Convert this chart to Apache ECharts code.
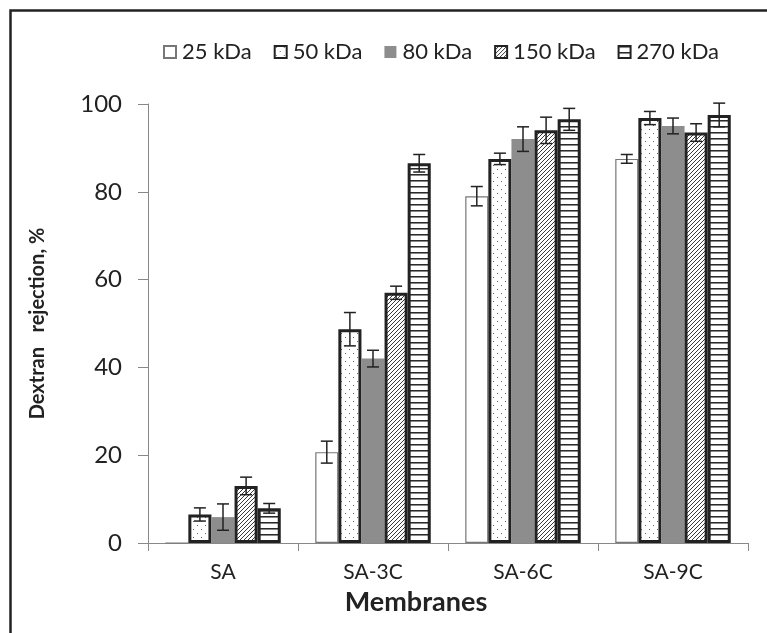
<!DOCTYPE html>
<html>
<head>
<meta charset="utf-8">
<script src="https://cdn.jsdelivr.net/npm/echarts@6/dist/echarts.min.js"></script>
<style>
  html, body { margin: 0; padding: 0; background: #fff; }
  #chart { width: 767px; height: 633px; }
</style>
</head>
<body>
<div id="chart"></div>
<script>
// data
const categories = ["SA", "SA-3C", "SA-6C", "SA-9C"];
const seriesNames = ["25 kDa", "50 kDa", "80 kDa", "150 kDa", "270 kDa"];
const yTicks = [0, 20, 40, 60, 80, 100];

const rej25 = [0, 20.7, 79, 87.5];
const rej50 = [6.5, 48.7, 87.5, 96.8];
const rej80 = [5.9, 42, 92, 95];
const rej150 = [13, 57, 94, 93.5];
const rej270 = [7.9, 86.5, 96.5, 97.5];

const err25 = [0, 2.5, 2.2, 1];
const err50 = [1.5, 3.8, 1.3, 1.5];
const err80 = [3, 1.9, 2.8, 1.8];
const err150 = [2, 1.5, 3, 2];
const err270 = [1.1, 2, 2.5, 2.7];

const values = [rej25, rej50, rej80, rej150, rej270];
const errors = [err25, err50, err80, err150, err270];

const FONT = "Lato";
const GAP = 0.23; // barCategoryGap

// little canvases used as fill patterns
function makePattern(w, h, draw) {
  const c = document.createElement("canvas");
  c.width = w;
  c.height = h;
  const ctx = c.getContext("2d");
  ctx.fillStyle = "#fff";
  ctx.fillRect(0, 0, w, h);
  draw(ctx);
  return { image: c, repeat: "repeat" };
}

const dots = makePattern(8, 8, (ctx) => {
  ctx.fillStyle = "#666";
  ctx.fillRect(1, 1, 1, 1);
  ctx.fillRect(5, 5, 1, 1);
});
const hatch = makePattern(4, 4, (ctx) => {
  ctx.fillStyle = "#3a3a3a";
  for (let i = 0; i < 4; i++) ctx.fillRect(i, 3 - i, 1, 1);
});
const hlines = makePattern(4, 6, (ctx) => {
  ctx.fillStyle = "#2a2a2a";
  ctx.fillRect(0, 0, 4, 1);
  ctx.fillStyle = "#888";
  ctx.fillRect(0, 1, 4, 1);
});

const barStyles = [
  { color: "#fff", borderColor: "#777", borderWidth: 1.2 },
  { color: dots, borderColor: "#222", borderWidth: 3 },
  { color: "#8d8d8d", borderWidth: 0 },
  { color: hatch, borderColor: "#222", borderWidth: 3 },
  { color: hlines, borderColor: "#222", borderWidth: 3 },
];

const barSeries = seriesNames.map((name, i) => ({
  name,
  type: "bar",
  data: values[i],
  barGap: 0,
  barCategoryGap: GAP * 100 + "%",
  itemStyle: barStyles[i],
  z: 2,
}));

// error bars, one custom series for all
const errData = [];
categories.forEach((_, c) => {
  seriesNames.forEach((_, s) => {
    errData.push([c, values[s][c], errors[s][c], s]);
  });
});

const errSeries = {
  name: "err",
  type: "custom",
  clip: false,
  z: 5,
  data: errData,
  renderItem: function (params, api) {
    const cat = api.value(0);
    const val = api.value(1);
    const err = api.value(2);
    const s = api.value(3);
    if (!err) return null;
    const band = api.size([1, 0])[0];
    const group = band * (1 - GAP);
    const bw = group / seriesNames.length;
    const center = api.coord([cat, val]);
    const x = center[0] - group / 2 + (s + 0.5) * bw;
    const top = api.coord([cat, val + err])[1];
    const bot = api.coord([cat, val - err])[1];
    const cap = 6;
    const style = { stroke: "#222", lineWidth: 1.5 };
    return {
      type: "group",
      children: [
        { type: "line", shape: { x1: x, y1: top, x2: x, y2: bot }, style },
        { type: "line", shape: { x1: x - cap, y1: top, x2: x + cap, y2: top }, style },
        { type: "line", shape: { x1: x - cap, y1: bot, x2: x + cap, y2: bot }, style },
      ],
    };
  },
};

const chart = echarts.init(document.getElementById("chart"));
chart.setOption({
  animation: false,
  backgroundColor: "#fff",
  textStyle: { fontFamily: FONT },
  graphic: [
    {
      type: "polyline",
      shape: { points: [[10.5, 633], [10.5, 10.5], [767, 10.5]] },
      style: { stroke: "#222", lineWidth: 2.5, fill: null },
    },
  ],
  legend: {
    data: seriesNames,
    left: 158,
    top: 36,
    itemGap: 22,
    itemWidth: 12,
    itemHeight: 12,
    icon: "rect",
    textStyle: { fontFamily: FONT, fontSize: 22, color: "#222", padding: [0, 0, 0, 1] },
  },
  grid: { left: 148, right: 19, top: 104, bottom: 90 },
  xAxis: {
    type: "category",
    data: categories,
    name: "Membranes",
    nameLocation: "middle",
    nameGap: 46,
    nameTextStyle: {
      fontFamily: FONT,
      fontSize: 27,
      fontWeight: "bold",
      color: "#222",
      padding: [0, 64, 0, 0],
    },
    axisLine: { lineStyle: { color: "#888", width: 1 } },
    axisTick: { show: true, length: 8, lineStyle: { color: "#888" } },
    axisLabel: { margin: 19, fontFamily: FONT, fontSize: 21, color: "#222" },
  },
  yAxis: {
    type: "value",
    min: yTicks[0],
    max: yTicks[yTicks.length - 1],
    interval: 20,
    name: "Dextran   rejection, %",
    nameLocation: "middle",
    nameGap: 100,
    nameTextStyle: { fontFamily: FONT, fontSize: 20, fontWeight: "bold", color: "#222" },
    axisLine: { show: true, lineStyle: { color: "#888", width: 1 } },
    axisTick: { show: true, length: 10, lineStyle: { color: "#888" } },
    splitLine: { show: false },
    axisLabel: { margin: 26, fontFamily: FONT, fontSize: 24, color: "#222" },
  },
  series: [...barSeries, errSeries],
});
</script>
</body>
</html>
